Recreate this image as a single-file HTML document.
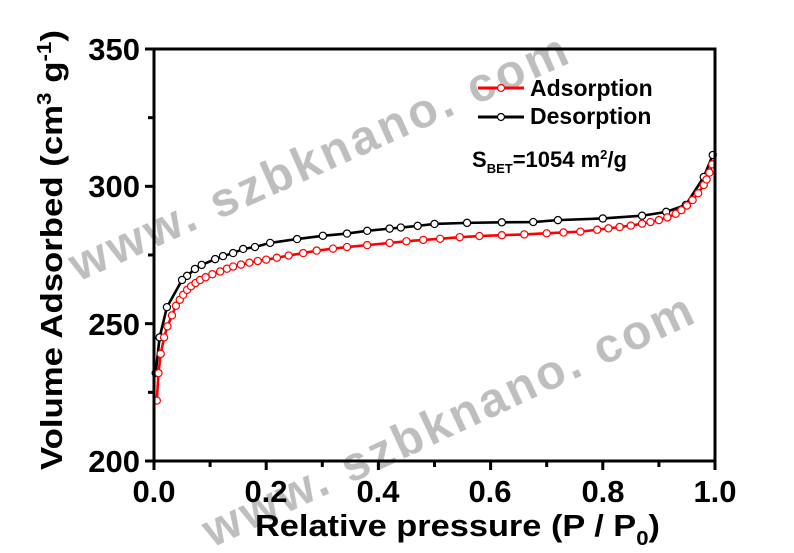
<!DOCTYPE html><html><head><style>body{margin:0;background:#fff}svg{display:block}text{font-family:"Liberation Sans",Arial,sans-serif;font-weight:bold}</style></head><body>
<svg id="s" width="794" height="553" viewBox="0 0 794 553" xmlns="http://www.w3.org/2000/svg">
<g fill="#bbb" font-size="48" opacity="0.95">
<text transform="translate(78,282) rotate(-24)" textLength="540" lengthAdjust="spacing">www. szbknano. com</text>
<text transform="translate(212,548) rotate(-25)" textLength="535" lengthAdjust="spacing">www. szbknano. com</text>
</g>
<g id="data"></g>
<g stroke="#000" stroke-width="3" fill="none">
<rect x="154" y="49" width="561" height="412"/>
</g>
<g id="ticks" stroke="#000" stroke-width="3"></g>
<g font-size="31" fill="#000">
<text x="154" y="502" text-anchor="middle">0.0</text>
<text x="266" y="502" text-anchor="middle">0.2</text>
<text x="378" y="502" text-anchor="middle">0.4</text>
<text x="490" y="502" text-anchor="middle">0.6</text>
<text x="603" y="502" text-anchor="middle">0.8</text>
<text x="715" y="502" text-anchor="middle">1.0</text>
<text x="140" y="60" text-anchor="end">350</text>
<text x="140" y="197" text-anchor="end">300</text>
<text x="140" y="335" text-anchor="end">250</text>
<text x="140" y="472" text-anchor="end">200</text>
<text x="255" y="536" font-size="31" textLength="405" lengthAdjust="spacingAndGlyphs">Relative pressure (P / P<tspan font-size="20" dy="9">0</tspan><tspan dy="-9">)</tspan></text>
<text transform="translate(62,470) rotate(-90)" font-size="31" textLength="440" lengthAdjust="spacingAndGlyphs">Volume Adsorbed (cm<tspan font-size="20" dy="-11">3</tspan><tspan dy="11"> g</tspan><tspan font-size="20" dy="-11">-1</tspan><tspan dy="11">)</tspan></text>
<text x="530" y="96" font-size="23">Adsorption</text>
<text x="530" y="124" font-size="23">Desorption</text>
<text x="472" y="167" font-size="22">S<tspan font-size="13" dy="6">BET</tspan><tspan dy="-6">=1054 m</tspan><tspan font-size="13" dy="-8">2</tspan><tspan dy="8">/g</tspan></text>
</g>
<g stroke-width="3">
<line x1="478" y1="88" x2="524" y2="88" stroke="red"/><circle cx="501" cy="88" r="3.5" fill="#fff" stroke="red" stroke-width="1.2"/>
<line x1="478" y1="117" x2="524" y2="117" stroke="#000"/><circle cx="501" cy="117" r="3.5" fill="#fff" stroke="#000" stroke-width="1.2"/>
</g>
</svg>
<script>
var X=p=>154+561*p, Y=v=>461-(v-200)*412/150;
var ad=[[.005,222],[.008,232],[.012,239],[.018,245],[.024,249],[.032,253],[.039,256.5],[.046,258.7],[.052,260.5],[.059,262.3],[.066,263.6],[.074,264.8],[.082,265.9],[.092,266.9],[.104,268],[.118,269],[.13,270],[.141,270.8],[.155,271.5],[.17,272.2],[.185,272.8],[.2,273.3],[.219,274],[.24,274.8],[.266,275.7],[.29,276.6],[.319,277.3],[.344,277.9],[.38,278.6],[.42,279.4],[.45,280],[.48,280.5],[.51,280.9],[.545,281.5],[.58,281.9],[.62,282.2],[.66,282.5],[.7,282.9],[.73,283.2],[.76,283.5],[.79,284.2],[.81,284.7],[.83,285.2],[.85,285.7],[.87,286.4],[.885,287],[.9,287.7],[.915,288.7],[.93,290],[.94,291.3],[.95,293],[.96,295],[.97,297.5],[.98,300.5],[.985,302.5],[.99,305],[.995,308]];
var de=[[.996,311.4],[.98,303.4],[.948,293.2],[.913,290.7],[.87,289.3],[.8,288.3],[.72,287.7],[.676,287],[.62,286.9],[.558,286.7],[.5,286.3],[.47,285.6],[.44,285],[.42,284.6],[.38,283.8],[.344,282.8],[.301,282],[.255,280.8],[.207,279.4],[.18,277.9],[.159,277.2],[.141,275.7],[.123,274.6],[.109,273.5],[.085,271.4],[.073,269.9],[.059,267.4],[.05,265.9],[.023,256],[.01,245],[.003,232]];
var g=document.getElementById('data'),h='';
function ser(d,c){h+='<polyline fill="none" stroke="'+c+'" stroke-width="2.6" points="'+d.map(p=>X(p[0])+','+Y(p[1])).join(' ')+'"/>';
d.forEach(p=>{h+='<circle cx="'+X(p[0])+'" cy="'+Y(p[1])+'" r="3.6" fill="#fff" stroke="'+c+'" stroke-width="1.2"/>'});}
ser(de,'#000');ser(ad,'red');g.innerHTML=h;
var t='';for(var i=0;i<=10;i++){var x=X(i/10);t+='<line x1="'+x+'" y1="461" x2="'+x+'" y2="'+(i%2?467:470)+'"/>';}
for(var v=200;v<=350;v+=25){var y=Y(v);t+='<line x1="154" y1="'+y+'" x2="'+(v%50?148:145)+'" y2="'+y+'"/>';}
document.getElementById('ticks').innerHTML=t;
</script>
</body></html>
